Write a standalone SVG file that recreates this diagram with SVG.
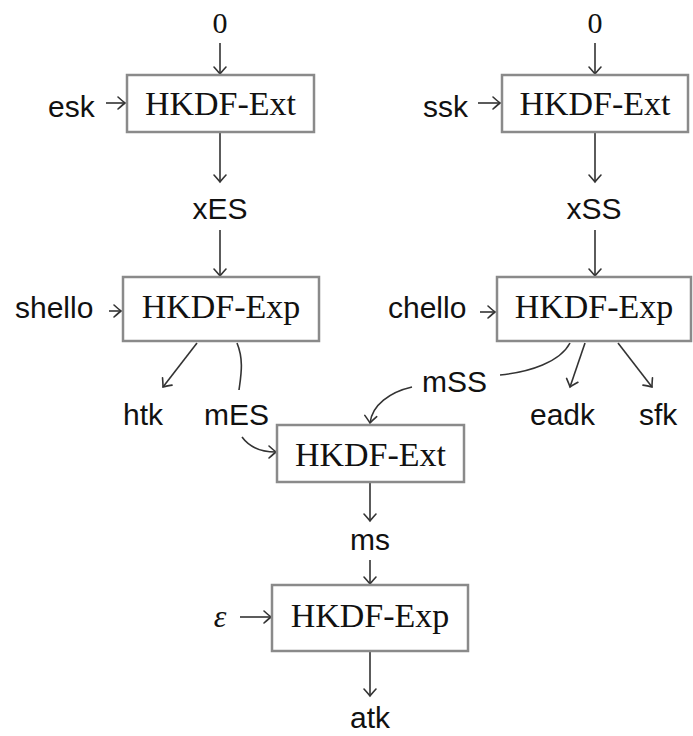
<svg xmlns="http://www.w3.org/2000/svg" width="693" height="736" viewBox="0 0 693 736">
<defs>
<marker id="ar" markerUnits="userSpaceOnUse" markerWidth="16" markerHeight="16" viewBox="-10 -8 12 16" refX="0" refY="0" orient="auto">
<path d="M-7,-6 Q-2,-1.5 0,0 Q-2,1.5 -7,6" fill="none" stroke="#333" stroke-width="1.6" stroke-linecap="round"/>
</marker>
</defs>
<style>
.box{fill:#fff;stroke:#8a8a8a;stroke-width:2.5}
.bt{font-family:"Liberation Serif",serif;font-size:34px;fill:#111;text-anchor:middle}
.lb{font-family:"Liberation Sans",sans-serif;font-size:30px;fill:#111}
.num{font-family:"Liberation Serif",serif;font-size:30px;fill:#111;text-anchor:middle}
.c{fill:none;stroke:#333;stroke-width:1.6}
.a{marker-end:url(#ar)}
</style>
<g id="connectors">
<path class="c a" d="M220,43 V74"/>
<path class="c a" d="M595,43 V74"/>
<path class="c a" d="M106,103 H125"/>
<path class="c a" d="M478,103 H500"/>
<path class="c a" d="M220,133 V182"/>
<path class="c a" d="M220,230 V276"/>
<path class="c a" d="M595,133 V182"/>
<path class="c a" d="M595,230 V276"/>
<path class="c a" d="M109,311 H121"/>
<path class="c a" d="M480,312 H495"/>
<path class="c a" d="M197,343 L163,387"/>
<path class="c" d="M237,343 C244,360 241,375 239,390"/>
<path class="c a" d="M242,437 C250,448 262,452 276,452"/>
<path class="c" d="M570,343 C560,362 530,372 500,375"/>
<path class="c a" d="M412,387 C390,392 372,405 370,423"/>
<path class="c a" d="M585,343 L570,387"/>
<path class="c a" d="M618,343 L652,387"/>
<path class="c a" d="M370,483 V521"/>
<path class="c a" d="M370,560 V584"/>
<path class="c a" d="M240,617 H271"/>
<path class="c a" d="M370,652 V696"/>
</g>
<g id="zero1"><text class="num" x="220" y="33">0</text></g>
<g id="zero2"><text class="num" x="595" y="33">0</text></g>
<g id="esk"><text class="lb" x="48" y="117">esk</text></g>
<g id="ssk"><text class="lb" x="423" y="117">ssk</text></g>
<g id="ext1"><rect class="box" x="127" y="75" width="187" height="57"/><text class="bt" x="220.5" y="115">HKDF-Ext</text></g>
<g id="ext2"><rect class="box" x="502" y="75" width="186" height="57"/><text class="bt" x="595" y="115">HKDF-Ext</text></g>
<g id="xES"><text class="lb" x="220" y="219" text-anchor="middle">xES</text></g>
<g id="xSS"><text class="lb" x="594" y="219" text-anchor="middle">xSS</text></g>
<g id="shello"><text class="lb" x="15" y="318">shello</text></g>
<g id="chello"><text class="lb" x="388" y="318">chello</text></g>
<g id="exp1"><rect class="box" x="123" y="277" width="196" height="64"/><text class="bt" x="221" y="318">HKDF-Exp</text></g>
<g id="exp2"><rect class="box" x="497" y="277" width="194" height="64"/><text class="bt" x="594" y="318">HKDF-Exp</text></g>
<g id="htk"><text class="lb" x="123" y="425">htk</text></g>
<g id="mES"><text class="lb" x="204" y="425">mES</text></g>
<g id="mSS"><text class="lb" x="422" y="392">mSS</text></g>
<g id="eadk"><text class="lb" x="530" y="425">eadk</text></g>
<g id="sfk"><text class="lb" x="639" y="425">sfk</text></g>
<g id="ext3"><rect class="box" x="277" y="425" width="187" height="57"/><text class="bt" x="370.5" y="466">HKDF-Ext</text></g>
<g id="ms"><text class="lb" x="370" y="550" text-anchor="middle">ms</text></g>
<g id="eps"><text x="220" y="627" font-family="Liberation Serif,serif" font-style="italic" font-size="32" fill="#111" text-anchor="middle">ε</text></g>
<g id="exp3"><rect class="box" x="272" y="585" width="196" height="66"/><text class="bt" x="370" y="627">HKDF-Exp</text></g>
<g id="atk"><text class="lb" x="370" y="728" text-anchor="middle">atk</text></g>
</svg>
